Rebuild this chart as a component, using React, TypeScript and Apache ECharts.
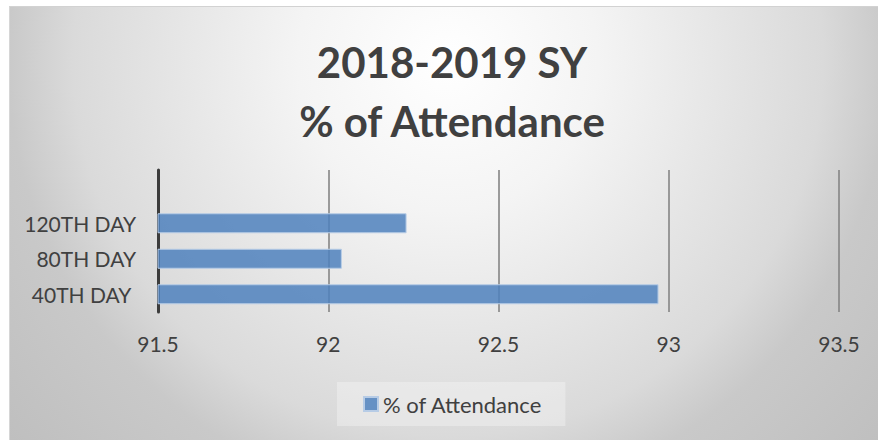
import React, { useEffect, useRef } from "react";
import * as echarts from "echarts";

const titleLines = ["2018-2019 SY", "% of Attendance"];
const seriesName = "% of Attendance";
const categories = ["40TH DAY ", "80TH DAY", "120TH DAY", ""];
const attendance = [92.97, 92.04, 92.23];
const xMin = 91.5;
const xMax = 93.5;
const xStep = 0.5;

const FONT = "Lato, 'Open Sans', sans-serif";
const TEXT = "#404040";

export default function App() {
  const ref = useRef<HTMLDivElement>(null);

  useEffect(() => {
    document.body.style.margin = "0";
    if (!ref.current) return;
    const chart = echarts.init(ref.current, undefined, { renderer: "svg" });
    chart.setOption({
      animation: false,
      backgroundColor: "transparent",
      title: {
        text: titleLines.join("\n"),
        left: 447,
        top: 27,
        textAlign: "center",
        textStyle: {
          fontFamily: FONT,
          fontSize: 42,
          fontWeight: "bold",
          color: TEXT,
          lineHeight: 59,
        },
      },
      legend: {
        data: [seriesName],
        left: 337,
        top: 382,
        padding: [11, 23, 11, 26],
        backgroundColor: "rgba(255,255,255,0.3)",
        icon: "rect",
        itemWidth: 14,
        itemHeight: 14,
        itemGap: 5,
        textStyle: { fontFamily: FONT, fontSize: 22, color: TEXT },
      },
      grid: { left: 158, right: 39, top: 170, bottom: 128, containLabel: false },
      xAxis: {
        type: "value",
        min: xMin,
        max: xMax,
        interval: xStep,
        axisLine: { show: false },
        axisTick: { show: false },
        axisLabel: {
          margin: 21,
          fontFamily: FONT,
          fontSize: 21,
          color: TEXT,
          formatter: (v: number) => String(v),
        },
        splitLine: { show: true, lineStyle: { color: "#858585", width: 1.6 } },
      },
      yAxis: {
        type: "category",
        data: categories,
        axisLine: { show: true, lineStyle: { color: "#3c3c3c", width: 3 } },
        axisTick: { show: false },
        axisLabel: { margin: 22, fontFamily: FONT, fontSize: 21, color: TEXT },
        splitLine: { show: false },
      },
      series: [
        {
          name: seriesName,
          type: "bar",
          data: attendance,
          barWidth: 20,
          itemStyle: {
            color: "rgba(79,129,189,0.85)",
            borderColor: "#b7cce6",
            borderWidth: 1,
          },
        },
      ],
    });
    return () => chart.dispose();
  }, []);

  return (
    <div style={{ position: "relative", width: 878, height: 440, background: "#ffffff", overflow: "hidden" }}>
      <div
        style={{
          position: "absolute",
          left: 9,
          top: 6,
          width: 869,
          height: 434,
          boxSizing: "border-box",
          borderTop: "1.5px solid #d2d2d2",
          borderLeft: "1px solid #d6d6d6",
          background:
            "radial-gradient(circle at 438px 54px, #ffffff 0px, #f4f4f4 150px, #e6e6e6 270px, #dadada 375px, #c9c9c9 440px, #bcbcbc 620px)",
        }}
      />
      <div ref={ref} style={{ position: "absolute", left: 0, top: 0, width: 878, height: 440 }} />
    </div>
  );
}
